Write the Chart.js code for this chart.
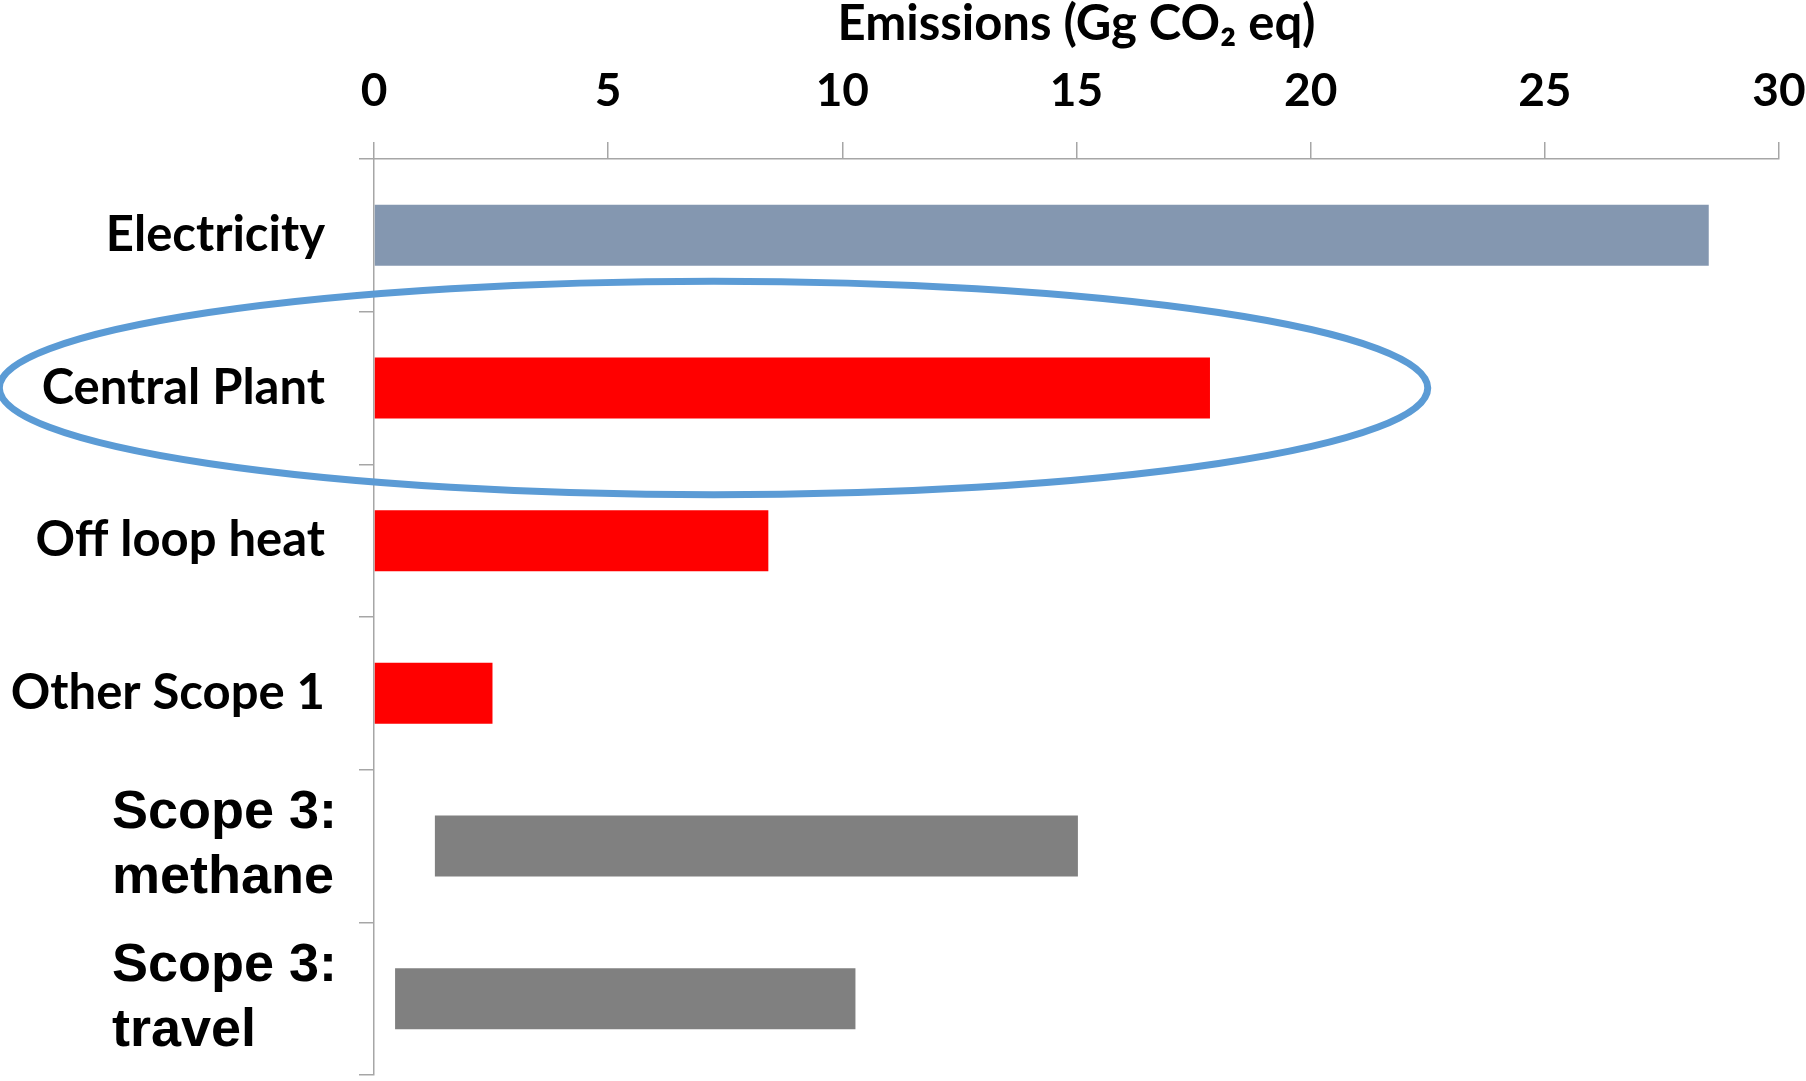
<!DOCTYPE html>
<html>
<head>
<meta charset="utf-8">
<title>Emissions by source</title>
<script src="https://cdn.jsdelivr.net/npm/chart.js@4.4.1/dist/chart.umd.min.js"></script>
<style>
  html, body { margin: 0; padding: 0; background: #fff; }
  #wrap { width: 1806px; height: 1081px; }
</style>
</head>
<body>
<div id="wrap"><canvas id="emissionsChart" width="1806" height="1081"></canvas></div>
<script>
// Emissions (Gg CO2 eq) per source
const categories = ['Electricity', 'Central Plant', 'Off loop heat', 'Other Scope 1', ['Scope 3:', 'methane'], ['Scope 3:', 'travel']];
const barStart = [0, 0, 0, 0, 1.3, 0.45];
const barEnd = [28.5, 17.85, 8.42, 2.53, 15.03, 10.28];
const xTicks = [0, 5, 10, 15, 20, 25, 30];
const xTitle = 'Emissions (Gg CO\u2082 eq)';

const barColors = ['#8497B0', '#FF0000', '#FF0000', '#FF0000', '#808080', '#808080'];

// ring drawn round the "Central Plant" row (x extent in Gg, height in rows)
const ringRow = 1;
const ringFrom = -8;
const ringTo = 22.5;
const ringHalfHeight = 0.7;

const axisGray = '#A6A6A6';
const labelFont = { family: 'Lato', weight: 'bold', size: 49 };
const tickFont = { family: 'Lato', weight: 'bold', size: 46 };
const scopeFont = { family: '"Liberation Sans", Arial', weight: 'bold', size: 54, lineHeight: 1.2 };

// the two-line Scope 3 labels sit left-aligned in the original
const scopeLabels = {
    id: 'scopeLabels',
    beforeDraw(chart) {
        const y = chart.scales.y;
        y.getLabelItems().forEach(item => {
            if (Array.isArray(item.label) && !item.moved) {
                item.options.textAlign = 'left';
                item.options.translation[0] = y.left + 112;
                item.moved = true;
            }
        });
    }
};

const ring = {
    id: 'ring',
    afterDraw(chart) {
        const { ctx, scales: { x, y } } = chart;
        const left = x.getPixelForValue(ringFrom);
        const right = x.getPixelForValue(ringTo);
        const cy = y.getPixelForValue(ringRow);
        const rowHeight = y.getPixelForValue(1) - y.getPixelForValue(0);
        ctx.save();
        ctx.beginPath();
        ctx.ellipse((left + right) / 2, cy, (right - left) / 2, rowHeight * ringHalfHeight, 0, 0, Math.PI * 2);
        ctx.strokeStyle = '#5B9BD5';
        ctx.lineWidth = 7;
        ctx.stroke();
        ctx.restore();
    }
};

const ctx = document.getElementById('emissionsChart').getContext('2d');
new Chart(ctx, {
    type: 'bar',
    data: {
        labels: categories,
        datasets: [{
            data: barStart.map((s, i) => [s, barEnd[i]]),
            backgroundColor: barColors,
            borderWidth: 0,
            barPercentage: 0.4,
            categoryPercentage: 1
        }]
    },
    options: {
        indexAxis: 'y',
        responsive: false,
        animation: false,
        layout: { padding: { top: 0, left: 0, right: 0, bottom: 6 } },
        plugins: { legend: { display: false }, tooltip: { enabled: false } },
        scales: {
            x: {
                position: 'top',
                min: xTicks[0],
                max: xTicks[xTicks.length - 1],
                afterBuildTicks: s => { s.ticks = xTicks.map(v => ({ value: v })); },
                afterFit: s => { s.height = 159; s.paddingLeft = 0; s.paddingRight = 27; },
                ticks: { color: '#000', font: tickFont, padding: 23 },
                grid: { drawOnChartArea: false, tickLength: 17, color: axisGray, lineWidth: 1.5 },
                border: { color: axisGray, width: 1.5 },
                title: {
                    display: true,
                    text: xTitle,
                    color: '#000',
                    font: { family: 'Lato', weight: 'bold', size: 49, lineHeight: 1 },
                    padding: { top: 0, bottom: 0 }
                }
            },
            y: {
                afterFit: s => { s.width = 374; s.paddingTop = 0; s.paddingBottom = 0; },
                ticks: {
                    color: '#000',
                    padding: 34,
                    font: c => Array.isArray(categories[c.index]) ? scopeFont : labelFont
                },
                grid: { drawOnChartArea: false, tickLength: 15, color: axisGray, lineWidth: 1.5 },
                border: { color: axisGray, width: 1.5 }
            }
        }
    },
    plugins: [scopeLabels, ring]
});
</script>
</body>
</html>
